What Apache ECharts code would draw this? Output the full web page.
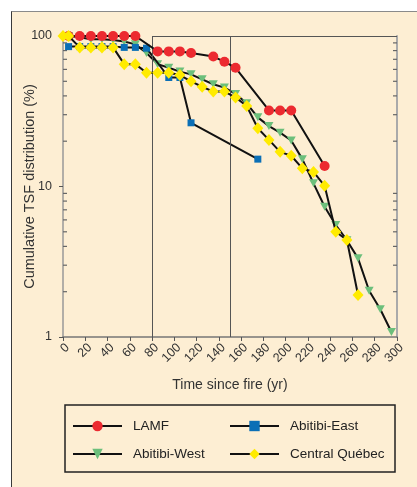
<!DOCTYPE html>
<html>
<head>
<meta charset="utf-8">
<script src="https://cdn.jsdelivr.net/npm/echarts@6/dist/echarts.min.js"></script>
<style>
html,body{margin:0;padding:0;background:#ffffff;}
#wrap{position:absolute;left:11px;top:11px;width:406px;height:476px;background:#fdeed3;border-left:1.5px solid #3a3a3a;border-top:1.5px solid #8a8a8a;}
#chart{position:absolute;left:0;top:0;width:405px;height:475px;}
</style>
</head>
<body>
<div id="wrap"><div id="chart"></div></div>
<script>
// Time since fire (yr) and cumulative TSF distribution (%)
var lamfX = [5,15,25,35,45,55,65,85,95,105,115,135,145,155,185,195,205,235];
var lamfY = [100,100,100,100,100,100,100,79,79,79,77,73,67.5,61.5,32,32,32,13.7];

var eastX = [5,15,25,35,45,55,65,75,95,105,115,175];
var eastY = [85,85,85,85,85,84,84,83,53,53,26.5,15.2];

var westX = [5,15,25,35,45,55,65,75,85,95,105,115,125,135,145,155,165,175,185,195,205,215,225,235,245,255,265,275,285,295];
var westY = [100,98,95,95,94,92,88,77,65,61.5,58,55.6,51.5,47.8,45.4,41.2,35.7,28.8,25.2,22.8,20.2,15.2,10.5,7.34,5.55,4.4,3.33,2.03,1.53,1.08];

var centralX = [0,5,15,25,35,45,55,65,75,85,95,105,115,125,135,145,155,165,175,185,195,205,215,225,235,245,255,265];
var centralY = [100,100,84,84,84,84,65,65,57,57,57,55,50,46,42.7,42.7,39.1,34.3,24.4,20.4,17,16,13.2,12.5,10.1,5,4.41,1.9];

var seriesNames = ['LAMF','Abitibi-East','Abitibi-West','Central Québec'];
var minorTickValues = [2,3,4,5,6,7,8,9,20,30,40,50,60,70,80,90];
var refLinesX = [80,150];

function pairs(xs, ys){ return xs.map(function(x,i){ return [x, ys[i]]; }); }

var FONT = 'Liberation Sans';
var chart = echarts.init(document.getElementById('chart'));

var lineStyle = {color:'#111', width:2};

chart.setOption({
  animation:false,
  textStyle:{fontFamily:FONT},
  grid:{left:51, right:20, top:24, bottom:150, outerBoundsMode:'none', containLabel:false},
  xAxis:{
    type:'value', min:0, max:300, interval:20,
    name:'Time since fire (yr)', nameLocation:'middle', nameGap:41, nameMoveOverlap:false,
    nameTextStyle:{fontSize:14, color:'#333', fontFamily:FONT},
    axisLine:{show:true, lineStyle:{color:'#777', width:1.5}},
    axisTick:{show:true, length:4, lineStyle:{color:'#555'}},
    axisLabel:{rotate:45, fontSize:12.5, color:'#333', margin:4, verticalAlign:'top', fontFamily:FONT},
    splitLine:{show:false}
  },
  yAxis:[{
    type:'log', logBase:10, min:1, max:100,
    name:'Cumulative TSF distribution (%)', nameLocation:'middle', nameGap:26, nameMoveOverlap:false,
    nameTextStyle:{fontSize:14.5, color:'#333', fontFamily:FONT},
    axisLine:{show:true, lineStyle:{color:'#999', width:1.5}},
    axisTick:{show:true, length:4, lineStyle:{color:'#555'}},
    axisLabel:{fontSize:12.5, color:'#333', margin:11, fontFamily:FONT},
    splitLine:{show:false}
  },{
    type:'log', logBase:10, min:1, max:100, position:'right',
    axisLine:{show:true, lineStyle:{color:'#aaa', width:2}},
    axisTick:{show:false}, axisLabel:{show:false}, splitLine:{show:false}
  }],
  legend:[{
    data:[seriesNames[0], seriesNames[2]], orient:'vertical',
    left:55, top:402, itemWidth:49, itemHeight:13, itemGap:14,
    textStyle:{fontSize:13.5, color:'#222', fontFamily:FONT, padding:[0,0,0,6]}
  },{
    data:[seriesNames[1], seriesNames[3]], orient:'vertical',
    left:212, top:402, itemWidth:49, itemHeight:13, itemGap:14,
    textStyle:{fontSize:13.5, color:'#222', fontFamily:FONT, padding:[0,0,0,6]}
  }],
  graphic:[{
    type:'rect', shape:{x:53, y:393, width:330, height:67},
    style:{fill:'none', stroke:'#222', lineWidth:1.5}, z:0
  }],
  series:[
    {
      type:'custom', name:'minorTicks', silent:true, legendHoverLink:false,
      data: minorTickValues.map(function(v){ return [0, v]; }),
      renderItem:function(params, api){
        var v = api.value(1);
        var pl = api.coord([0, v]);
        var pr = api.coord([300, v]);
        return {type:'group', children:[
          {type:'line', shape:{x1:pl[0], y1:pl[1], x2:pl[0]+4, y2:pl[1]}, style:{stroke:'#666', lineWidth:1.2}},
          {type:'line', shape:{x1:pr[0]-4, y1:pr[1], x2:pr[0], y2:pr[1]}, style:{stroke:'#666', lineWidth:1.2}}
        ]};
      },
      z:1
    },
    {
      type:'line', name:'refs', silent:true, data:[], symbol:'none',
      markLine:{
        silent:true, symbol:'none', label:{show:false},
        lineStyle:{color:'#555', width:1, type:'solid'},
        data:[
          {xAxis:refLinesX[0]},
          {xAxis:refLinesX[1]},
          [{coord:[refLinesX[0],100]},{coord:[300,100]}]
        ]
      }
    },
    {
      name:seriesNames[2], type:'line', data:pairs(westX, westY),
      symbol:'triangle', symbolRotate:180, symbolSize:[9,8],
      itemStyle:{color:'#6cbf7b'}, lineStyle:lineStyle, z:3
    },
    {
      name:seriesNames[1], type:'line', data:pairs(eastX, eastY),
      symbol:'rect', symbolSize:7,
      itemStyle:{color:'#0b6fb6'}, lineStyle:lineStyle, z:4
    },
    {
      name:seriesNames[0], type:'line', data:pairs(lamfX, lamfY),
      symbol:'circle', symbolSize:10,
      itemStyle:{color:'#ec2a30'}, lineStyle:lineStyle, z:5
    },
    {
      name:seriesNames[3], type:'line', data:pairs(centralX, centralY),
      symbol:'diamond', symbolSize:[11,12],
      itemStyle:{color:'#ffeb00'}, lineStyle:lineStyle, z:6
    }
  ]
});
</script>
</body>
</html>
